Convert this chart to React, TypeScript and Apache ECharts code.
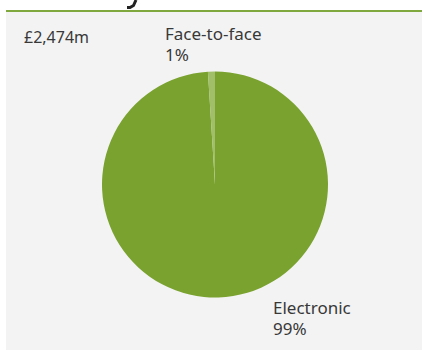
import React, { useEffect, useRef } from "react";
import * as echarts from "echarts";

const categories = ["Electronic", "Face-to-face"];
const shares = [99, 1];
const sliceColors = ["#7aa22f", "#a0bf68"];
const totalLabel = "£2,474m";
const labelPositions = [
  { x: 273, y: 297 },
  { x: 165, y: 23 },
];

export default function App() {
  const ref = useRef<HTMLDivElement>(null);
  useEffect(() => {
    document.body.style.margin = "0";
    const chart = echarts.init(ref.current!, null, { renderer: "svg" });
    chart.setOption({
      animation: false,
      backgroundColor: "#ffffff",
      graphic: [
        { type: "rect", shape: { x: 6, y: 12, width: 416, height: 338 }, style: { fill: "#f3f3f3" }, z: -10 },
        { type: "rect", shape: { x: 6, y: 10, width: 416, height: 2 }, style: { fill: "#7fa83f" }, z: -9 },
        {
          type: "polyline",
          shape: { points: [[136, 0], [133.5, 5.5], [130, 7.5], [127, 7.5]] },
          style: { stroke: "#222", lineWidth: 3, fill: null },
        },
        {
          type: "text",
          x: 24,
          y: 29,
          style: { text: totalLabel, fontSize: 16, fill: "#383838", fontFamily: "Noto Sans" },
        },
      ],
      series: [
        {
          type: "pie",
          center: [215, 184.5],
          radius: [0, 113],
          startAngle: 90,
          clockwise: true,
          silent: true,
          data: categories.map((name, i) => ({
            name,
            value: shares[i],
            itemStyle: { color: sliceColors[i] },
          })),
          label: {
            show: true,
            position: "outside",
            formatter: "{b}\n{d}%",
            fontSize: 17,
            lineHeight: 21,
            color: "#383838",
            fontFamily: "Noto Sans",
            align: "left",
          },
          labelLine: { show: false },
          labelLayout: (params: any) => {
            const p = labelPositions[params.dataIndex];
            return { x: p.x, y: p.y, align: "left", verticalAlign: "top" };
          },
        },
      ],
    });
    return () => chart.dispose();
  }, []);
  return (
    <div
      ref={ref}
      style={{ position: "fixed", left: 0, top: 0, width: 422, height: 352 }}
    />
  );
}
